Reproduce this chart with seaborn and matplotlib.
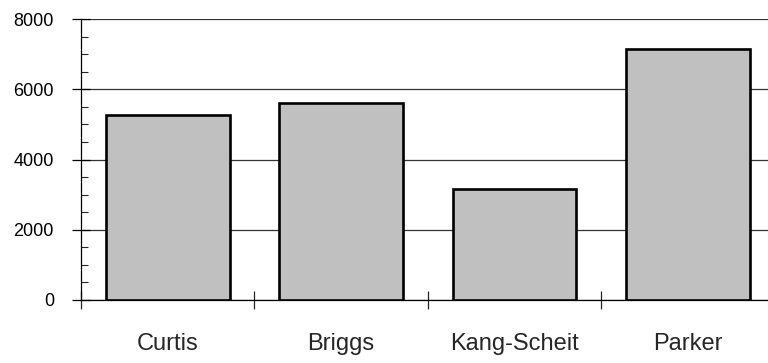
import matplotlib
matplotlib.use("Agg")
import numpy as np
import pandas as pd
import matplotlib.pyplot as plt
import seaborn as sns

# chart data
names = ["Curtis", "Briggs", "Kang-Scheit", "Parker"]
values = [5260, 5610, 3170, 7140]

sns.set_style("white")
plt.rcParams["font.family"] = ["Liberation Sans", "DejaVu Sans"]

df = pd.DataFrame({"name": names, "value": values})

fig = plt.figure(figsize=(7.68, 3.63), dpi=100)
ax = fig.add_axes([81 / 768, 63 / 363, 693.6 / 768, 281 / 363])

sns.barplot(data=df, x="name", y="value", color="#c0c0c0", saturation=1,
            width=0.715, edgecolor="black", linewidth=1.9, ax=ax, zorder=3)

ax.set_xlim(-0.5, 3.5)
ax.set_ylim(0, 8000)
ax.set_yticks([0, 2000, 4000, 6000, 8000])
ax.set_yticks(np.arange(0, 8001, 500), minor=True)
ax.set_xticks(np.arange(-0.5, 3.6, 1), minor=True)
ax.set_xlabel("")
ax.set_ylabel("")

# horizontal gridlines behind the bars
ax.yaxis.grid(True, color="#333333", linewidth=0.9, zorder=0)
ax.set_axisbelow(True)

for side in ["top", "right"]:
    ax.spines[side].set_visible(False)
ax.spines["left"].set_color("black")
ax.spines["bottom"].set_color("black")
ax.spines["left"].set_linewidth(0.9)
ax.spines["bottom"].set_linewidth(0.9)

ax.tick_params(axis="y", which="major", direction="inout", length=13, width=0.9,
               labelsize=13, pad=13, colors="black", left=True)
ax.tick_params(axis="y", which="minor", direction="in", length=5, width=0.8, left=True)
ax.tick_params(axis="x", which="major", length=0, labelsize=17, pad=24)
ax.tick_params(axis="x", which="minor", direction="inout", length=13, width=0.9, bottom=True)

fig.savefig("out.png", dpi=100)
